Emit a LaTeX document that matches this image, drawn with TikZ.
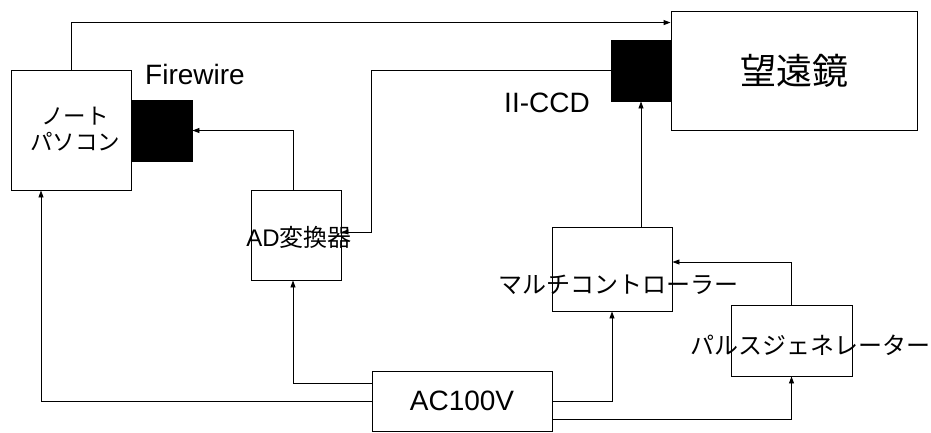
\documentclass[tikz,border=0pt]{standalone}
\usepackage{fontspec}
\setmainfont{Liberation Sans}
\newfontfamily\jp{Noto Sans CJK JP}
\usetikzlibrary{arrows.meta}

\begin{document}
\begin{tikzpicture}[x=1pt,y=-1pt,>={Triangle[length=7pt,width=5pt]},line width=0.9pt,
  box/.style={draw,inner sep=0pt},
  blk/.style={draw,fill=black,inner sep=0pt},
  lat/.style={inner sep=0pt,font=\fontsize{28}{30}\selectfont},
  jtxt/.style={inner sep=0pt,font=\fontsize{24}{26}\selectfont\jp}]
\useasboundingbox (0,0) rectangle (931,432);
% devices
\node[box,minimum width=120pt,minimum height=120pt] (pc) at (71,130) {};
\node[inner sep=0pt,align=center,font=\fontsize{22.5}{25.5}\selectfont\jp] (pclbl) at (75,129) {ノート\\パソコン};
\node[blk,minimum width=61pt,minimum height=61pt] (fw) at (161.5,130.5) {};
\node[lat] (fwlbl) at (195,74) {Firewire};
\node[box,minimum width=246pt,minimum height=119pt,
  font=\fontsize{36}{40}\selectfont\jp] (scope) at (794,70.5) {望遠鏡};
\node[blk,minimum width=60pt,minimum height=61pt] (ccd) at (641,70.5) {};
\node[lat] (ccdlbl) at (547,103) {II-CCD};
\node[box,minimum width=90pt,minimum height=90pt] (ad) at (296,235) {};
\node[jtxt] (adlbl) at (299,237) {{\setmainfont{Liberation Sans}AD}変換器};
\node[box,minimum width=120pt,minimum height=84pt] (mc) at (612,269) {};
\node[jtxt] (mclbl) at (618,285) {マルチコントローラー};
\node[box,minimum width=121pt,minimum height=71pt] (pg) at (791.5,340.5) {};
\node[jtxt] (pglbl) at (810,345) {パルスジェネレーター};
\node[box,minimum width=180pt,minimum height=60pt,
  font=\fontsize{28}{30}\selectfont] (ac) at (462,401) {AC100V};
% signal lines
\draw[->] (pc.north) |- ([yshift=-12pt]scope.north west);
\draw[->] (ccd.west) -- ++(-239,0) |- ([yshift=3pt]ad.east);
\draw[->] ([xshift=-3pt]ad.north) |- (fw.east);
\draw[->] (mc.north -| ccd.south) -- (ccd.south);
\draw[->] (pg.north) |- ([yshift=7pt]mc.east);
% power lines
\draw[->] ([yshift=18pt]ac.west) -| ([xshift=-3pt]ad.south);
\draw[->] (ac.west) -| ([xshift=-30pt]pc.south);
\draw[->] (ac.east) -| (mc.south);
\draw[->] ([yshift=-18pt]ac.east) -| (pg.south);
\end{tikzpicture}
\end{document}
